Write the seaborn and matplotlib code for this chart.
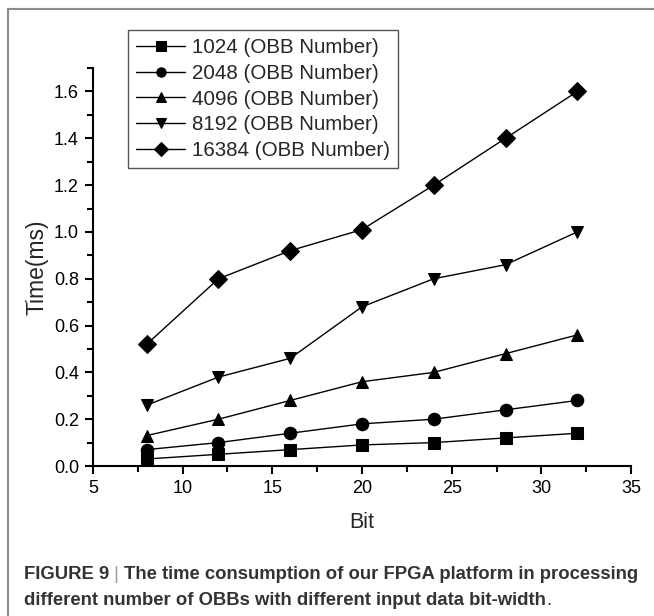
import pandas as pd
import matplotlib
matplotlib.use('Agg')
import matplotlib.pyplot as plt
from matplotlib.lines import Line2D
from matplotlib.ticker import MultipleLocator, FormatStrFormatter
import seaborn as sns

# values
bits = [8, 12, 16, 20, 24, 28, 32]
t_1024 = [0.03, 0.05, 0.07, 0.09, 0.10, 0.12, 0.14]
t_2048 = [0.07, 0.10, 0.14, 0.18, 0.20, 0.24, 0.28]
t_4096 = [0.13, 0.20, 0.28, 0.36, 0.40, 0.48, 0.56]
t_8192 = [0.26, 0.38, 0.46, 0.68, 0.80, 0.86, 1.00]
t_16384 = [0.52, 0.80, 0.92, 1.01, 1.20, 1.40, 1.60]
labels = ['1024 (OBB Number)', '2048 (OBB Number)', '4096 (OBB Number)',
          '8192 (OBB Number)', '16384 (OBB Number)']
series = [t_1024, t_2048, t_4096, t_8192, t_16384]

# long form table for seaborn
rows = []
for lab, vals in zip(labels, series):
    for b, v in zip(bits, vals):
        rows.append({'Bit': b, 'Time': v, 'Series': lab})
df = pd.DataFrame(rows)

sns.set_style('ticks')
plt.rcParams['font.family'] = ['Liberation Sans', 'DejaVu Sans']

fig = plt.figure(figsize=(6.54, 6.16), dpi=100)
ax = fig.add_axes([0.142, 0.2435, 0.823, 0.646])

markers = dict(zip(labels, ['s', 'o', '^', 'v', 'D']))
sns.lineplot(data=df, x='Bit', y='Time', hue='Series', style='Series',
             markers=markers, dashes=False, palette=['black'] * 5,
             markersize=9, linewidth=1, markeredgecolor='black', ax=ax)

ax.set_xlim(5, 35)
ax.set_ylim(0, 1.7)
ax.xaxis.set_major_locator(MultipleLocator(5))
ax.xaxis.set_minor_locator(MultipleLocator(2.5))
ax.yaxis.set_major_locator(MultipleLocator(0.2))
ax.yaxis.set_minor_locator(MultipleLocator(0.1))
ax.yaxis.set_major_formatter(FormatStrFormatter('%.1f'))
for s in ['top', 'right']:
    ax.spines[s].set_visible(False)
for s in ['left', 'bottom']:
    ax.spines[s].set_linewidth(1.5)
    ax.spines[s].set_color('black')
ax.tick_params(which='major', direction='out', length=6, width=1.5,
               labelsize=13, colors='black', pad=4)
ax.tick_params(which='minor', direction='out', length=4, width=1.5, colors='black')
ax.set_xlabel('Bit', fontsize=15.5, labelpad=11)
ax.set_ylabel('Time(ms)', fontsize=16.5, labelpad=4)

leg = ax.legend(loc='upper left', bbox_to_anchor=(0.196, 0.951),
                bbox_transform=fig.transFigure, borderaxespad=0,
                fontsize=14.8, frameon=True, fancybox=False, markerscale=0.75,
                handlelength=2.35, handletextpad=0.35, labelspacing=0.32,
                borderpad=0.4)
leg.get_frame().set_edgecolor('#555555')
leg.get_frame().set_linewidth(1)
leg.get_frame().set_alpha(1)

# page frame lines (top and left)
fig.add_artist(Line2D([8 / 654, 1], [1 - 9 / 616, 1 - 9 / 616],
                      transform=fig.transFigure, color='#8a8a8a', linewidth=1.5))
fig.add_artist(Line2D([8 / 654, 8 / 654], [0, 1 - 9 / 616],
                      transform=fig.transFigure, color='#8a8a8a', linewidth=1.5))

# caption, built from pieces so the bar and the final period stay light
cap_size = 13.3
cap_col = '#333333'
t1 = fig.text(24 / 654, 1 - 583 / 616, 'FIGURE 9', fontsize=cap_size,
              fontweight='bold', color=cap_col, va='bottom', ha='left')
t2 = ax.annotate(' | ', xy=(1, 0), xycoords=t1, va='bottom', ha='left',
                 fontsize=cap_size, color='#999999', annotation_clip=False)
ax.annotate('The time consumption of our FPGA platform in processing',
            xy=(1, 0), xycoords=t2, va='bottom', ha='left', fontsize=cap_size,
            fontweight='bold', color=cap_col, annotation_clip=False)
t4 = fig.text(24 / 654, 1 - 609 / 616,
              'different number of OBBs with different input data bit-width',
              fontsize=cap_size, fontweight='bold', color=cap_col,
              va='bottom', ha='left')
ax.annotate('.', xy=(1, 0), xycoords=t4, va='bottom', ha='left',
            fontsize=cap_size, color=cap_col, annotation_clip=False)

fig.savefig('out.png', dpi=100)
